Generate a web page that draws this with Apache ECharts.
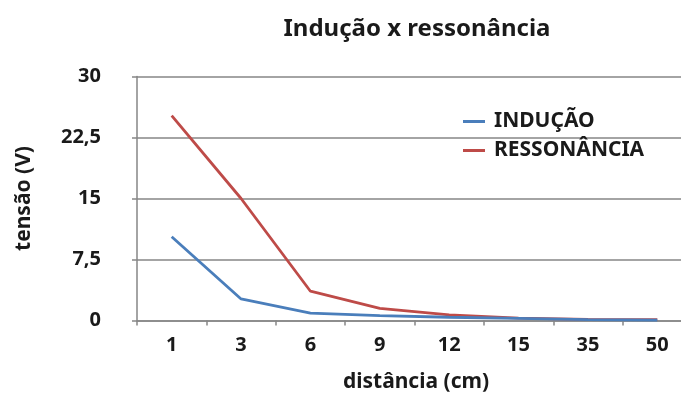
<!DOCTYPE html>
<html><head><meta charset="utf-8">
<script src="https://cdn.jsdelivr.net/npm/echarts@6/dist/echarts.min.js"></script>
<style>html,body{margin:0;padding:0;background:#fff;overflow:hidden}#c{width:700px;height:405px}</style>
</head><body><div id="c"></div>
<script>
const categories = ['1','3','6','9','12','15','35','50'];
const inducao = [10.3, 2.65, 0.9, 0.6, 0.4, 0.25, 0.1, 0.05];
const ressonancia = [25.2, 15.0, 3.6, 1.5, 0.7, 0.3, 0.15, 0.1];
const yTicks = [0, 7.5, 15, 22.5, 30];
const FONT = '"Noto Sans", sans-serif';
const TXT = '#1a1a1a';
const chart = echarts.init(document.getElementById('c'), null, {renderer:'canvas'});
chart.setOption({
  animation:false,
  backgroundColor:'#fff',
  title:{text:'Indução x ressonância', left:412, top:12, textAlign:'center',
    textStyle:{fontFamily:FONT, fontSize:24, fontWeight:'bold', color:TXT}},
  legend:{left:458, top:106, orient:'vertical', itemWidth:22, itemHeight:3, itemGap:8,
    icon:'rect',
    textStyle:{fontFamily:FONT, fontSize:21, lineHeight:21, fontWeight:'bold', color:TXT, padding:[0,0,0,4]},
    data:['INDUÇÃO','RESSONÂNCIA']},
  grid:{left:137, top:76.5, width:555, height:244},
  xAxis:{type:'category', data:categories, boundaryGap:true,
    axisLine:{lineStyle:{color:'#868686', width:1.5}},
    axisTick:{show:true, length:5, lineStyle:{color:'#868686', width:1.5}},
    axisLabel:{margin:15, fontFamily:FONT, fontSize:20, fontWeight:'bold', color:TXT},
    splitLine:{show:false}},
  yAxis:{type:'value', min:0, max:30, interval:7.5,
    axisLine:{show:true, lineStyle:{color:'#868686', width:1.5}},
    axisTick:{show:true, length:5, lineStyle:{color:'#868686', width:1.5}},
    axisLabel:{margin:36, fontFamily:FONT, fontSize:20, fontWeight:'bold', color:TXT,
      formatter:v=>String(v).replace('.',',')},
    splitLine:{lineStyle:{color:'#868686', width:1.5}},
    name:'tensão (V)', nameLocation:'middle', nameGap:102, nameRotate:90,
    nameTextStyle:{fontFamily:FONT, fontSize:21, fontWeight:'bold', color:TXT}},
  graphic:[{type:'text',
    style:{text:'distância (cm)', x:416, y:382, textAlign:'center', textVerticalAlign:'middle',
      font:'bold 21px "Noto Sans", sans-serif', fill:TXT}}],
  series:[
    {name:'INDUÇÃO', type:'line', data:inducao, showSymbol:false, symbol:'none', z:3,
      lineStyle:{color:'#4a7ebb', width:2.8}, itemStyle:{color:'#4a7ebb'}},
    {name:'RESSONÂNCIA', type:'line', data:ressonancia, showSymbol:false, symbol:'none', z:2,
      lineStyle:{color:'#be4b48', width:2.8}, itemStyle:{color:'#be4b48'}}
  ]
});
</script></body></html>
